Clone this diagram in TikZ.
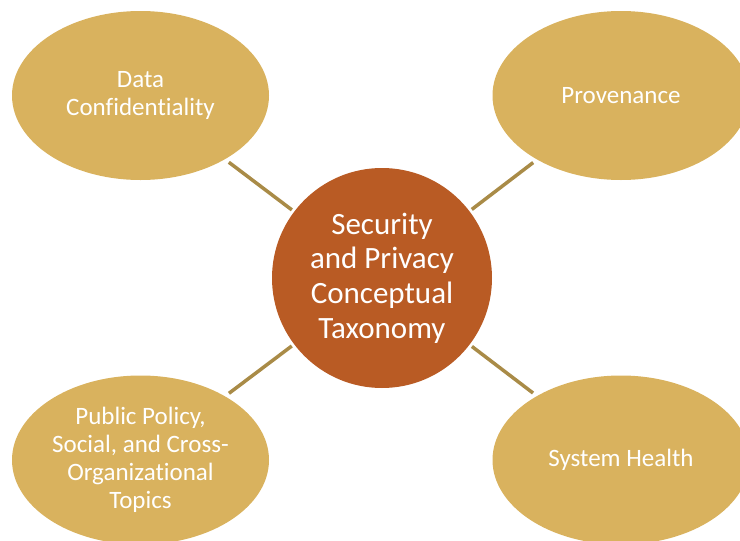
\documentclass[tikz,border=0pt]{standalone}
\usepackage{fontspec}
\setmainfont{Carlito}[Ligatures=NoCommon]
\usetikzlibrary{shapes.geometric}
\definecolor{topicgold}{HTML}{D9B25E}
\definecolor{corerust}{HTML}{B95B24}
\definecolor{linkgold}{HTML}{A98B47}
\begin{document}
\begin{tikzpicture}[x=1pt,y=-1pt,
  topic/.style={ellipse, fill=topicgold, minimum width=257pt, minimum height=169pt, inner sep=0pt, outer sep=0pt},
  topictext/.style={text=white, font=\fontsize{25}{28}\selectfont, align=center},
  core/.style={circle, fill=corerust, minimum size=220pt, inner sep=0pt, outer sep=0pt},
  coretext/.style={text=white, font=\fontsize{31}{34.7}\selectfont, align=center},
  link/.style={draw=linkgold, line width=3.5pt, shorten <=5pt, shorten >=3pt}]
\useasboundingbox (0,0) rectangle (740,541);
\node[core] (c) at (382,278) {};
\node[coretext] at (c.center) {Security\\and Privacy\\Conceptual\\Taxonomy};
\node[topic] (tl) at (140.5,95.5) {};
\node[topictext] at (tl.center) {Data\\Confidentiality};
\node[topic] (tr) at (621,95.5) {};
\node[topictext] at (tr.center) {Provenance};
\node[topic] (bl) at (140.5,460) {};
\node[topictext] at (bl.center) {Public Policy,\\Social, and Cross-\\Organizational\\Topics};
\node[topic] (br) at (621,460) {};
\node[topictext] at (br.center) {System Health};
\draw[link] (tl) -- (c);
\draw[link] (tr) -- (c);
\draw[link] (bl) -- (c);
\draw[link] (br) -- (c);
\end{tikzpicture}
\end{document}
